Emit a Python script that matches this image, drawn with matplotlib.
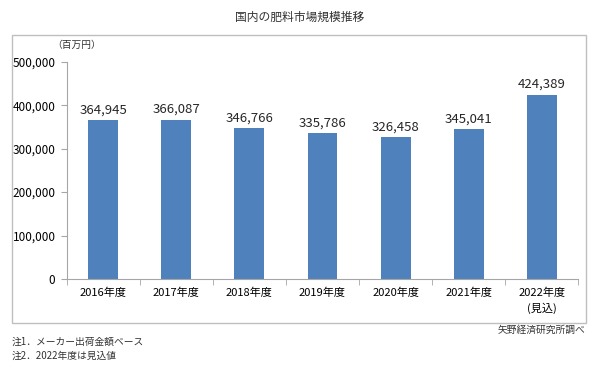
#!/usr/bin/env python3
import matplotlib
matplotlib.use("Agg")
import matplotlib.pyplot as plt
import matplotlib.ticker as mticker
import numpy as np

plt.rcParams['font.family'] = ['Noto Sans CJK JP', 'DejaVu Sans']

# データ
years = ["2016年度", "2017年度", "2018年度", "2019年度", "2020年度", "2021年度", "2022年度\n(見込)"]
values = [364945, 366087, 346766, 335786, 326458, 345041, 424389]
y_ticks = [0, 100000, 200000, 300000, 400000, 500000]

bar_color = "#4f81bd"
axis_color = "#a6a6a6"

fig = plt.figure(figsize=(6.0, 3.7), dpi=100)

# 外枠
frame = plt.Rectangle((0.02, 0.128), 0.957, 0.777, transform=fig.transFigure,
                      fill=False, edgecolor="#bfbfbf", linewidth=1.0)
fig.patches.append(frame)

ax = fig.add_axes((0.111, 0.246, 0.853, 0.587))
x = np.arange(len(years))
ax.bar(x, values, width=0.41, color=bar_color, zorder=2)

# 値ラベル
for xi, v in zip(x, values):
    ax.text(xi, v + 9000, "{:,}".format(v), ha="center", va="bottom",
            fontsize=9.5, color="#262626")

ax.set_xlim(-0.5, len(years) - 0.5)
ax.set_ylim(0, 500000)
ax.set_yticks(y_ticks)
ax.yaxis.set_major_formatter(mticker.FuncFormatter(lambda v, p: "{:,}".format(int(v))))
ax.set_xticks(x)
ax.set_xticklabels(years, fontsize=8, linespacing=1.5)
ax.set_xticks(np.arange(-0.5, len(years)), minor=True)
ax.tick_params(axis="x", which="major", length=0, pad=6)
ax.tick_params(axis="x", which="minor", length=4, color=axis_color)
ax.tick_params(axis="y", length=4, color=axis_color, labelsize=8.5, pad=4)

for s in ["top", "right"]:
    ax.spines[s].set_visible(False)
for s in ["left", "bottom"]:
    ax.spines[s].set_color(axis_color)

# テキスト
fig.text(0.5, 0.953, "国内の肥料市場規模推移", ha="center", va="center", fontsize=8.5, color="#333333")
fig.text(0.128, 0.878, "（百万円）", ha="center", va="center", fontsize=7, color="#333333")
fig.text(0.975, 0.108, "矢野経済研究所調べ", ha="right", va="center", fontsize=7, color="#333333")
fig.text(0.02, 0.075, "注1．メーカー出荷金額ベース", ha="left", va="center", fontsize=7, color="#333333")
fig.text(0.02, 0.038, "注2．2022年度は見込値", ha="left", va="center", fontsize=7, color="#333333")

plt.savefig("out.png", dpi=100)
plt.close()
